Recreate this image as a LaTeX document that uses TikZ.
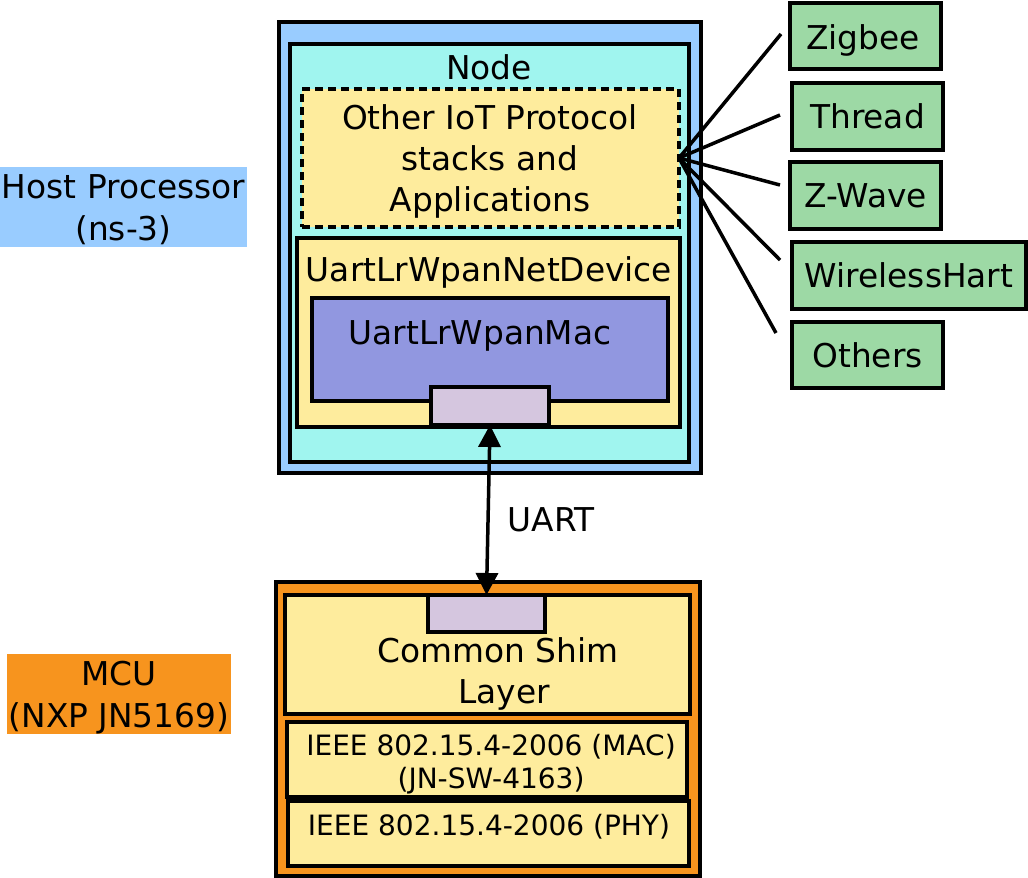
\documentclass[tikz,border=0pt]{standalone}
\usepackage{fontspec}
\setmainfont{DejaVu Sans}
\usetikzlibrary{arrows.meta}
\definecolor{hostblue}{HTML}{99CCFF}
\definecolor{nodecyan}{HTML}{A0F5EF}
\definecolor{layeryellow}{HTML}{FEEC9D}
\definecolor{macpurple}{HTML}{9197E0}
\definecolor{portlilac}{HTML}{D5C6DF}
\definecolor{mcuorange}{HTML}{F7941E}
\definecolor{protogreen}{HTML}{9DD9A5}
\tikzset{
  box/.style={draw=black, line width=4pt, inner sep=0pt, outer sep=0pt},
  greenbox/.style={draw=black, line width=3.5pt, fill=protogreen, inner sep=0pt, outer sep=0pt,
    font=\fontsize{32.8}{38}\selectfont},
  bigtxt/.style={inner sep=0pt, align=center, font=\fontsize{32.8}{41}\selectfont},
  smalltxt/.style={inner sep=0pt, align=center, font=\fontsize{28}{33}\selectfont},
  tag/.style={inner sep=0pt, align=center, font=\fontsize{32.8}{42}\selectfont},
  fanline/.style={line width=3.5pt},
}
\begin{document}
\begin{tikzpicture}[x=1pt,y=-1pt]
\useasboundingbox (0,0) rectangle (1028,878);
% host processor
\node[box, fill=hostblue, minimum width=422, minimum height=451] (host) at (490,247.5) {};
\node[box, fill=nodecyan, minimum width=399, minimum height=418] (nodebox) at (489.5,253) {};
\node[bigtxt] (nodelbl) at (489,67) {Node};
\node[box, dash pattern=on 8pt off 5pt, fill=layeryellow, minimum width=377, minimum height=138] (other) at (490.5,158) {};
\node[bigtxt] (otherlbl) at (490,161.5) {Other IoT Protocol\\stacks and\\Applications};
\node[box, fill=layeryellow, minimum width=383, minimum height=189] (netdev) at (488.5,332.5) {};
\node[bigtxt] (netdevlbl) at (489,272.5) {UartLrWpanNetDevice};
\node[box, fill=macpurple, minimum width=356, minimum height=103] (mac) at (490,349.5) {};
\node[bigtxt] (maclbl) at (480,336) {UartLrWpanMac};
\node[box, line width=3.5pt, fill=portlilac, minimum width=118, minimum height=38] (port1) at (490,406) {};
% MCU
\node[box, fill=mcuorange, minimum width=424, minimum height=294] (mcu) at (488,729) {};
\node[box, fill=layeryellow, minimum width=405, minimum height=119] (shim) at (487.5,654.5) {};
\node[box, line width=3.5pt, fill=portlilac, minimum width=117, minimum height=37] (port2) at (486.5,613.5) {};
\node[bigtxt] (shimlbl) at (498,674) {Common Shim\\\hspace*{12pt}Layer};
\node[box, fill=layeryellow, minimum width=400, minimum height=75] (ieeemac) at (487,759.5) {};
\node[smalltxt] (ieeemaclbl) at (491,764) {IEEE 802.15.4-2006 (MAC)\\(JN-SW-4163)};
\node[box, fill=layeryellow, minimum width=401, minimum height=65] (ieeephy) at (488.5,833.5) {};
\node[smalltxt] (ieeephylbl) at (489,827) {IEEE 802.15.4-2006 (PHY)};
% UART link
\draw[line width=3.5pt, {Triangle[length=22pt,width=22pt]}-{Triangle[length=22pt,width=22pt]}] (port1.south) -- (port2.north);
\node[bigtxt] (uartlbl) at (551,520) {UART};
% side labels
\node[tag, fill=hostblue, minimum width=247, minimum height=80] (hostlbl) at (123.5,207) {};
\node[tag] (hosttxt) at (123.5,210) {Host Processor\\(ns-3)};
\node[tag, fill=mcuorange, minimum width=224, minimum height=80] (mculbl) at (119,694) {};
\node[tag] (mcutxt) at (119,698) {MCU\\(NXP JN5169)};
% protocols
\node[greenbox, minimum width=151, minimum height=66] (zigbee) at (865.5,36) {};
\node[inner sep=0pt, font=\fontsize{32.8}{38}\selectfont] (zigbeetxt) at (863,40) {Zigbee};
\node[greenbox, minimum width=151, minimum height=67] (thread) at (867.5,116.5) {Thread};
\node[greenbox, minimum width=151, minimum height=67] (zwave) at (865.5,195.5) {Z-Wave};
\node[greenbox, minimum width=234, minimum height=67] (whart) at (909,275.5) {WirelessHart};
\node[greenbox, minimum width=151, minimum height=66] (others) at (867.5,355) {Others};
\coordinate (fz) at (781,34);
\coordinate (ft) at (780,115);
\coordinate (fw) at (780,185);
\coordinate (fh) at (780,260);
\coordinate (fo) at (776,333);
\foreach \e in {fz,ft,fw,fh,fo}
  \draw[fanline] (other.east) -- (\e);
\end{tikzpicture}
\end{document}
